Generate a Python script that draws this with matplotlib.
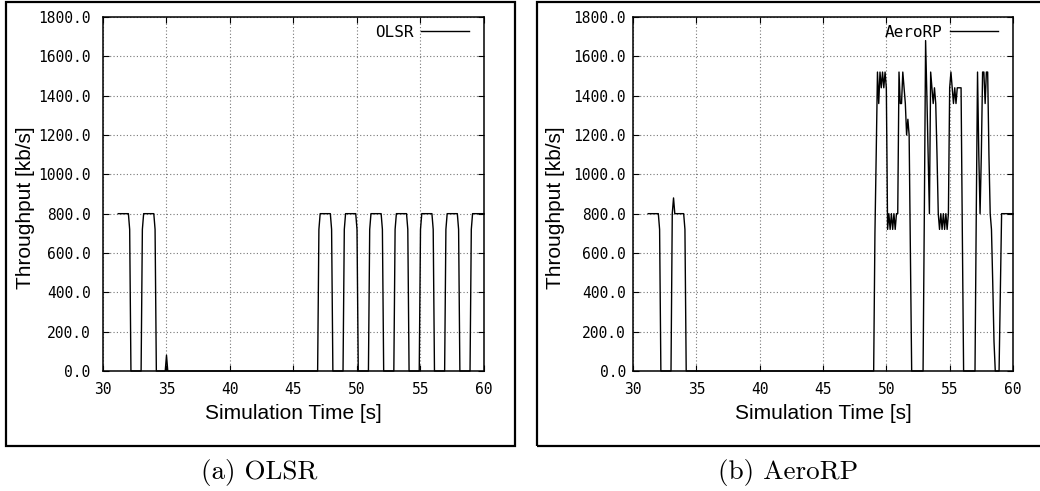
import matplotlib
matplotlib.use("Agg")
import matplotlib.pyplot as plt
from matplotlib.patches import Rectangle

# OLSR throughput (kb/s) over simulation time (s)
olsr_t = [31.2, 32.0, 32.1, 32.2, 33.0, 33.1, 33.2, 34.0, 34.1, 34.2, 34.9, 35.0, 35.1,
          46.9, 47.0, 47.1, 47.9, 48.0, 48.1, 48.9, 49.0, 49.1, 49.9, 50.0, 50.1,
          50.9, 51.0, 51.1, 51.9, 52.0, 52.1, 52.9, 53.0, 53.1, 53.9, 54.0, 54.1,
          54.9, 55.0, 55.1, 55.9, 56.0, 56.1, 56.9, 57.0, 57.1, 57.9, 58.0, 58.1,
          58.9, 59.0, 59.1, 60.0]
olsr_v = [800, 800, 720, 0, 0, 720, 800, 800, 720, 0, 0, 80, 0,
          0, 720, 800, 800, 720, 0, 0, 720, 800, 800, 720, 0,
          0, 720, 800, 800, 720, 0, 0, 720, 800, 800, 720, 0,
          0, 720, 800, 800, 720, 0, 0, 720, 800, 800, 720, 0,
          0, 720, 800, 800]

# AeroRP throughput (kb/s) over simulation time (s)
aerorp_t = [31.2, 32.0, 32.1, 32.2, 33.0, 33.1, 33.2, 33.3, 34.0, 34.1, 34.2,
            49.0, 49.1, 49.2, 49.3, 49.4, 49.5, 49.6, 49.7, 49.8, 49.9, 50.0,
            50.1, 50.2, 50.3, 50.4, 50.5, 50.6, 50.7, 50.8, 50.9,
            51.0, 51.1, 51.2, 51.3, 51.4, 51.5, 51.6, 51.7, 51.8, 51.9, 52.0,
            52.9, 53.0, 53.1, 53.2, 53.3, 53.4, 53.5, 53.6, 53.7, 53.8, 53.9, 54.0,
            54.1, 54.2, 54.3, 54.4, 54.5, 54.6, 54.7, 54.8, 54.9,
            55.0, 55.1, 55.2, 55.3, 55.4, 55.5, 55.6, 55.7, 55.8, 55.9, 56.0, 56.1,
            57.0, 57.1, 57.2, 57.3, 57.4, 57.5, 57.6, 57.7, 57.8, 57.9, 58.0,
            58.1, 58.2, 58.3, 58.4, 58.5, 58.6,
            58.9, 59.0, 59.1, 60.0]
aerorp_v = [800, 800, 720, 0, 0, 800, 880, 800, 800, 720, 0,
            0, 700, 1100, 1520, 1360, 1520, 1440, 1520, 1440, 1520, 1440,
            720, 800, 720, 800, 720, 800, 720, 800, 800,
            1520, 1360, 1360, 1520, 1440, 1360, 1200, 1280, 1200, 600, 0,
            0, 800, 1680, 1400, 1100, 800, 1520, 1440, 1360, 1440, 1360, 1100,
            800, 720, 800, 720, 800, 720, 800, 720, 800,
            1440, 1520, 1440, 1360, 1440, 1360, 1440, 1440, 1440, 1440, 700, 0,
            0, 800, 1520, 1100, 800, 1100, 1520, 1520, 1360, 1520, 1520,
            1100, 800, 720, 450, 150, 0,
            0, 400, 800, 800]

y_ticks = [0, 200, 400, 600, 800, 1000, 1200, 1400, 1600, 1800]
x_ticks = [30, 35, 40, 45, 50, 55, 60]

panels = [
    ("OLSR", olsr_t, olsr_v, "(a) OLSR", [103 / 1040, 0.2444, 381 / 1040, 0.721], 9, 259 / 1040),
    ("AeroRP", aerorp_t, aerorp_v, "(b) AeroRP", [633 / 1040, 0.2444, 380 / 1040, 0.721], 5, 788 / 1040),
]

fig = plt.figure(figsize=(10.4, 4.91), dpi=100)

# the boxes round each sub-figure
fig.patches.append(Rectangle((6 / 1040, 0.0916), 509 / 1040, 0.905, transform=fig.transFigure,
                             fill=False, edgecolor="black", linewidth=1.6))
fig.patches.append(Rectangle((537 / 1040, 0.0916), 0.5, 0.905, transform=fig.transFigure,
                             fill=False, edgecolor="black", linewidth=1.6))

for name, t, v, caption, rect, ypad, cap_x in panels:
    ax = fig.add_axes(rect)
    ax.plot(t, v, color="black", linewidth=1.0, label=name, clip_on=False)
    ax.set_xlim(30, 60)
    ax.set_ylim(0, 1800)
    ax.set_xticks(x_ticks)
    ax.set_yticks(y_ticks)
    ax.set_xticklabels([str(x) for x in x_ticks], family="DejaVu Sans Mono", fontsize=10.5)
    ax.set_yticklabels(["%.1f" % y for y in y_ticks], family="DejaVu Sans Mono", fontsize=10.5)
    ax.tick_params(direction="in", length=4.5, width=0.8, top=True, right=True)
    ax.tick_params(axis="x", pad=8)
    ax.tick_params(axis="y", pad=ypad)
    ax.grid(True, color="#777777", linestyle=(0, (1, 2)), linewidth=0.8)
    for s in ax.spines.values():
        s.set_linewidth(1.1)
    ax.set_xlabel("Simulation Time [s]", family="Liberation Sans", fontsize=15, labelpad=5)
    ax.set_ylabel("Throughput [kb/s]", family="Liberation Sans", fontsize=15)
    ax.yaxis.set_label_coords(-0.178, 0.46)
    ax.legend(loc="upper right", bbox_to_anchor=(0.961, 0.978), frameon=False, markerfirst=False,
              borderpad=0, borderaxespad=0, handlelength=3.0, handletextpad=0.5,
              prop={"family": "DejaVu Sans Mono", "size": 11.5})
    fig.text(cap_x, 1 - 472 / 491, caption, family="cmr10", fontsize=19.5, ha="center", va="center")

fig.savefig("out.png", dpi=100)
